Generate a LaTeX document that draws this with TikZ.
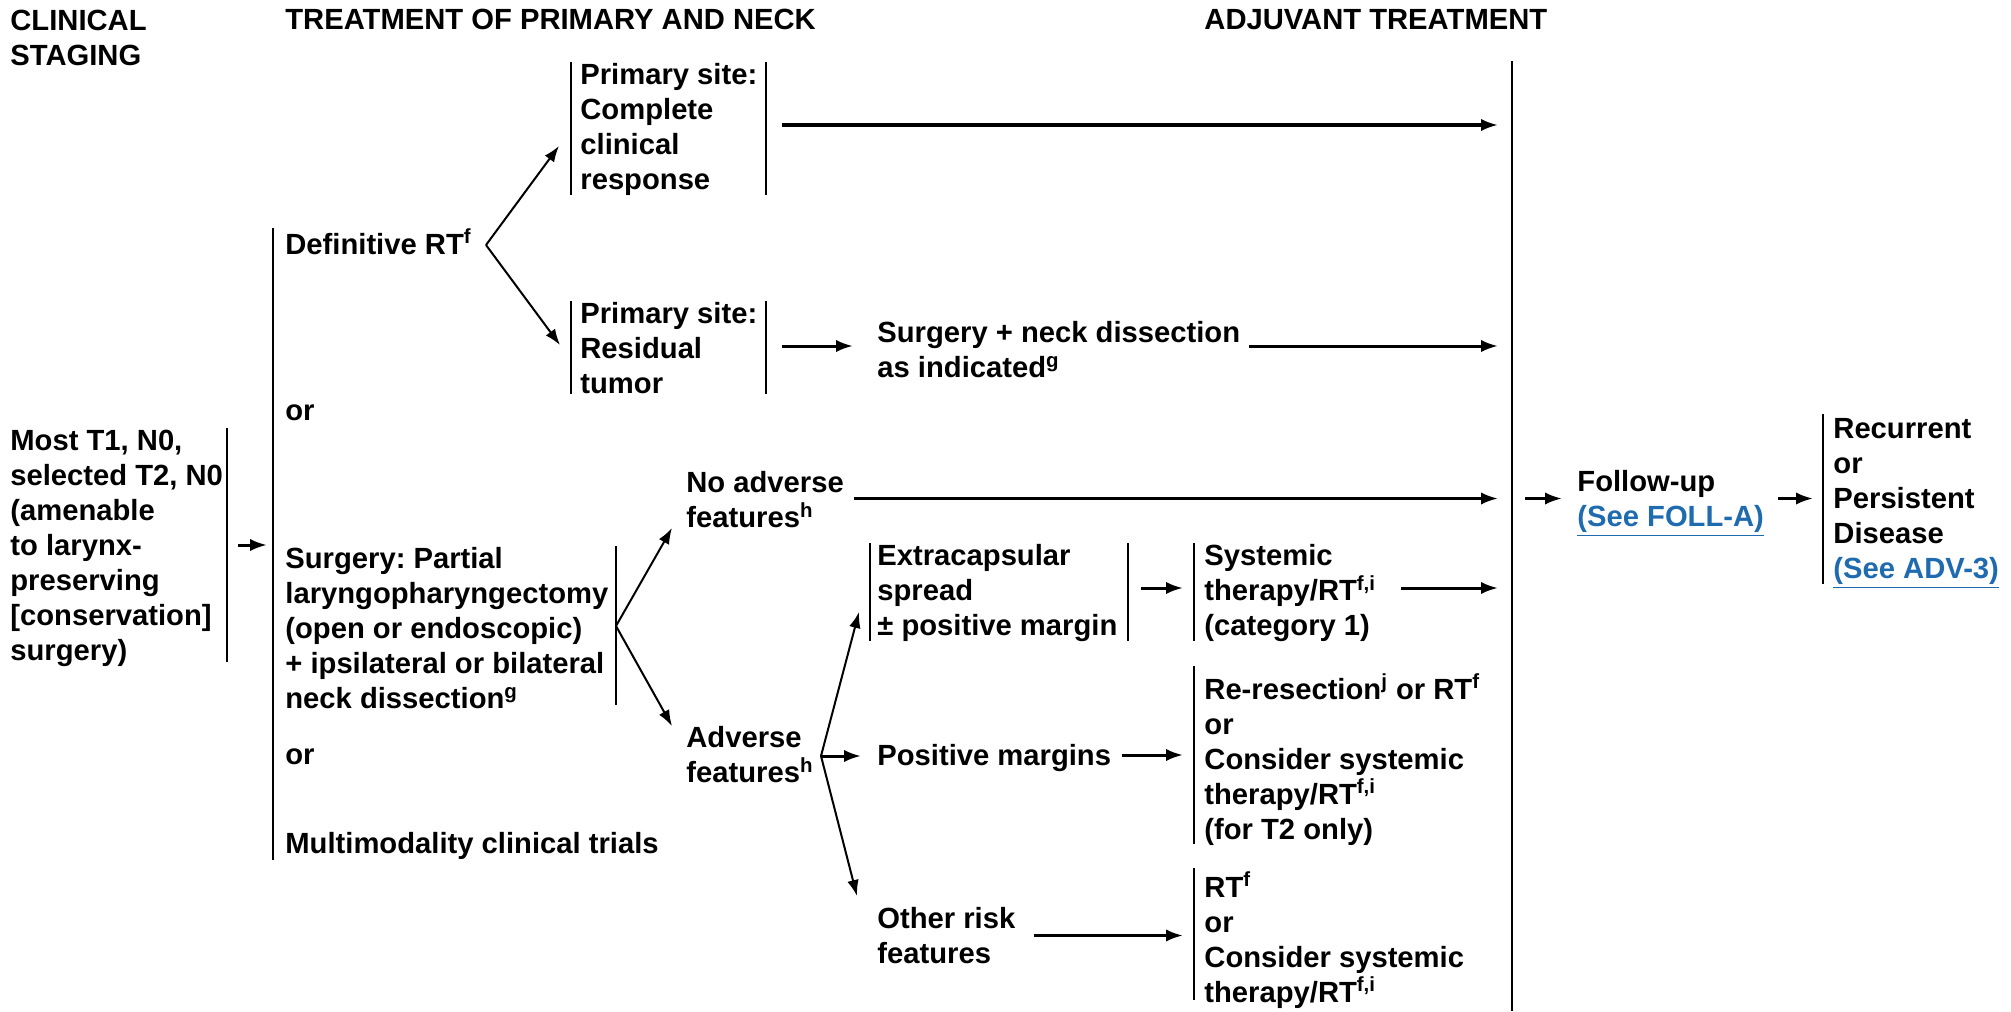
\documentclass[tikz,border=0pt]{standalone}
\usepackage{fontspec}
\setmainfont{Liberation Sans}
\usetikzlibrary{arrows.meta}
\definecolor{linkblue}{HTML}{1F6BB0}
\newcommand{\seelink}[1]{\textcolor{linkblue}{\underline{#1}}}
\frenchspacing

\begin{document}
\begin{tikzpicture}[x=0.5pt,y=-0.5pt,
  txt/.style={anchor=west,align=left,inner sep=0pt,
    font=\fontsize{14.6}{17.5}\selectfont\bfseries,
    execute at begin node={\rule{0pt}{14.4pt}},
    execute at end node={\rule[-4pt]{0pt}{4pt}}},
  mtxt/.style={txt,yshift=-2.2pt},
  bar/.style={line width=1pt},
  arr/.style={line width=1.5pt,-{Latex[length=8.5pt,width=6.2pt]}},
  darr/.style={line width=1pt,-{Latex[length=8pt,width=5.8pt]}},
]
\useasboundingbox (0,0) rectangle (2011,1011);

% column headings
\node[mtxt] (hclin)  at (10,37)   {CLINICAL\\STAGING};
\node[txt]  (htreat) at (285,19)  {TREATMENT OF PRIMARY AND NECK};
\node[txt]  (hadj)   at (1204,19) {ADJUVANT TREATMENT};

% clinical staging
\node[mtxt] (stage) at (10,545) {Most T1, N0,\\selected T2, N0\\(amenable\\to larynx-\\preserving\\{[}conservation{]}\\surgery)};

% primary treatment options
\node[txt]  (defrt) at (285,244) {Definitive RT\textsuperscript{f}};
\node[txt]  (or1)   at (285,410) {or};
\node[mtxt] (surg)  at (285,627.5) {Surgery: Partial\\laryngopharyngectomy\\(open or endoscopic)\\+ ipsilateral or bilateral\\neck dissection\textsuperscript{g}};
\node[txt]  (or2)   at (285,754) {or};
\node[txt]  (multi) at (285,843) {Multimodality clinical trials};

% response after RT
\node[mtxt] (cr)    at (580,126.5) {Primary site:\\Complete\\clinical\\response};
\node[mtxt] (resid) at (580,347.5) {Primary site:\\Residual\\tumor};
\node[mtxt] (sneck) at (877,349.5) {Surgery + neck dissection\\as indicated\textsuperscript{g}};

% pathology after surgery
\node[mtxt] (noadv) at (686,499.5) {No adverse\\features\textsuperscript{h}};
\node[mtxt] (adv)   at (686,754.5) {Adverse\\features\textsuperscript{h}};
\node[mtxt] (extra) at (877,590)   {Extracapsular\\spread\\± positive margin};
\node[txt]  (posm)  at (877,755)   {Positive margins};
\node[mtxt] (oth)   at (877,935.5) {Other risk\\features};

% adjuvant options
\node[mtxt] (syst) at (1204,590)   {Systemic\\therapy/RT\textsuperscript{f,i}\\(category 1)};
\node[mtxt] (rer)  at (1204,756)   {Re-resection\textsuperscript{j} or RT\textsuperscript{f}\\or\\Consider systemic\\therapy/RT\textsuperscript{f,i}\\(for T2 only)};
\node[mtxt] (rtf)  at (1204,936.5) {RT\textsuperscript{f}\\or\\Consider systemic\\therapy/RT\textsuperscript{f,i}};

% follow-up
\node[mtxt] (foll)  at (1577,499.5) {Follow-up\\\seelink{(See FOLL-A)}};
\node[mtxt] (recur) at (1833,499.5) {Recurrent\\or\\Persistent\\Disease\\\seelink{(See ADV-3)}};

% bracket bars
\coordinate (stgbar) at (227,0);
\coordinate (optbar) at (273,0);
\coordinate (srgbar) at (616,0);
\coordinate (rspL)   at (571,0);
\coordinate (rspR)   at (766,0);
\coordinate (extL)   at (870,0);
\coordinate (extR)   at (1128,0);
\coordinate (adjL)   at (1194,0);
\coordinate (adjline) at (1512,0);
\coordinate (recbar) at (1823,0);

\draw[bar] (stgbar |- 0,428) -- (stgbar |- 0,662);
\draw[bar] (optbar |- 0,228) -- (optbar |- 0,860);
\draw[bar] (srgbar |- 0,546) -- (srgbar |- 0,705);
\draw[bar] (rspL |- 0,62) -- (rspL |- 0,195);
\draw[bar] (rspR |- 0,62) -- (rspR |- 0,195);
\draw[bar] (rspL |- 0,301) -- (rspL |- 0,394);
\draw[bar] (rspR |- 0,301) -- (rspR |- 0,394);
\draw[bar] (extL |- 0,543) -- (extL |- 0,641);
\draw[bar] (extR |- 0,543) -- (extR |- 0,641);
\draw[bar] (adjL |- 0,543) -- (adjL |- 0,641);
\draw[bar] (adjL |- 0,666) -- (adjL |- 0,844);
\draw[bar] (adjL |- 0,868) -- (adjL |- 0,1000);
\draw[bar] (adjline |- 0,61) -- (adjline |- 0,1011);
\draw[bar] (recbar |- 0,414) -- (recbar |- 0,584);

% connectors
\draw[arr] ([xshift=5.5pt]stgbar |- 0,545) -- ([xshift=-3pt]optbar |- 0,545);

\coordinate (defo) at (486,245);
\coordinate (crin) at (559,146);
\coordinate (rsin) at (560,345);
\draw[darr] (defo) -- (crin);
\draw[darr] (defo) -- (rsin);

\draw[arr] ([xshift=8pt]rspR |- 0,125) -- ([xshift=-7pt]adjline |- 0,125);
\draw[arr] ([xshift=8pt]rspR |- 0,346) -- ([xshift=-12pt]sneck.west |- 0,346);
\draw[arr] ([xshift=4pt]sneck.east |- 0,346) -- ([xshift=-7pt]adjline |- 0,346);

\coordinate (srgo) at (616,626);
\coordinate (nain) at (672,528);
\coordinate (avin) at (672,726);
\draw[darr] (srgo) -- (nain);
\draw[darr] (srgo) -- (avin);

\draw[arr] ([xshift=5pt]noadv.east |- 0,498.5) -- ([xshift=-7pt]adjline |- 0,498.5);

\coordinate (advo) at (821,756);
\coordinate (exin) at (859,612);
\coordinate (otin) at (857,896);
\draw[darr] (advo) -- (exin);
\draw[arr]  (advo) -- ([xshift=-8pt]posm.west |- advo);
\draw[darr] (advo) -- (otin);

\draw[arr] ([xshift=6.5pt]extR |- 0,588) -- ([xshift=-5.5pt]adjL |- 0,588);
\draw[arr] ([xshift=-55.5pt]adjline |- 0,588) -- ([xshift=-7pt]adjline |- 0,588);
\draw[arr] ([xshift=5pt]posm.east) -- ([xshift=-5.5pt]adjL |- posm.east);
\draw[arr] ([xshift=-80pt]adjL |- 0,935.5) -- ([xshift=-5.5pt]adjL |- 0,935.5);

\draw[arr] ([xshift=6.5pt]adjline |- 0,498.5) -- ([xshift=-7.5pt]foll.west |- 0,498.5);
\draw[arr] ([xshift=7pt]foll.east |- 0,498.5) -- ([xshift=-5pt]recbar |- 0,498.5);
\end{tikzpicture}
\end{document}
